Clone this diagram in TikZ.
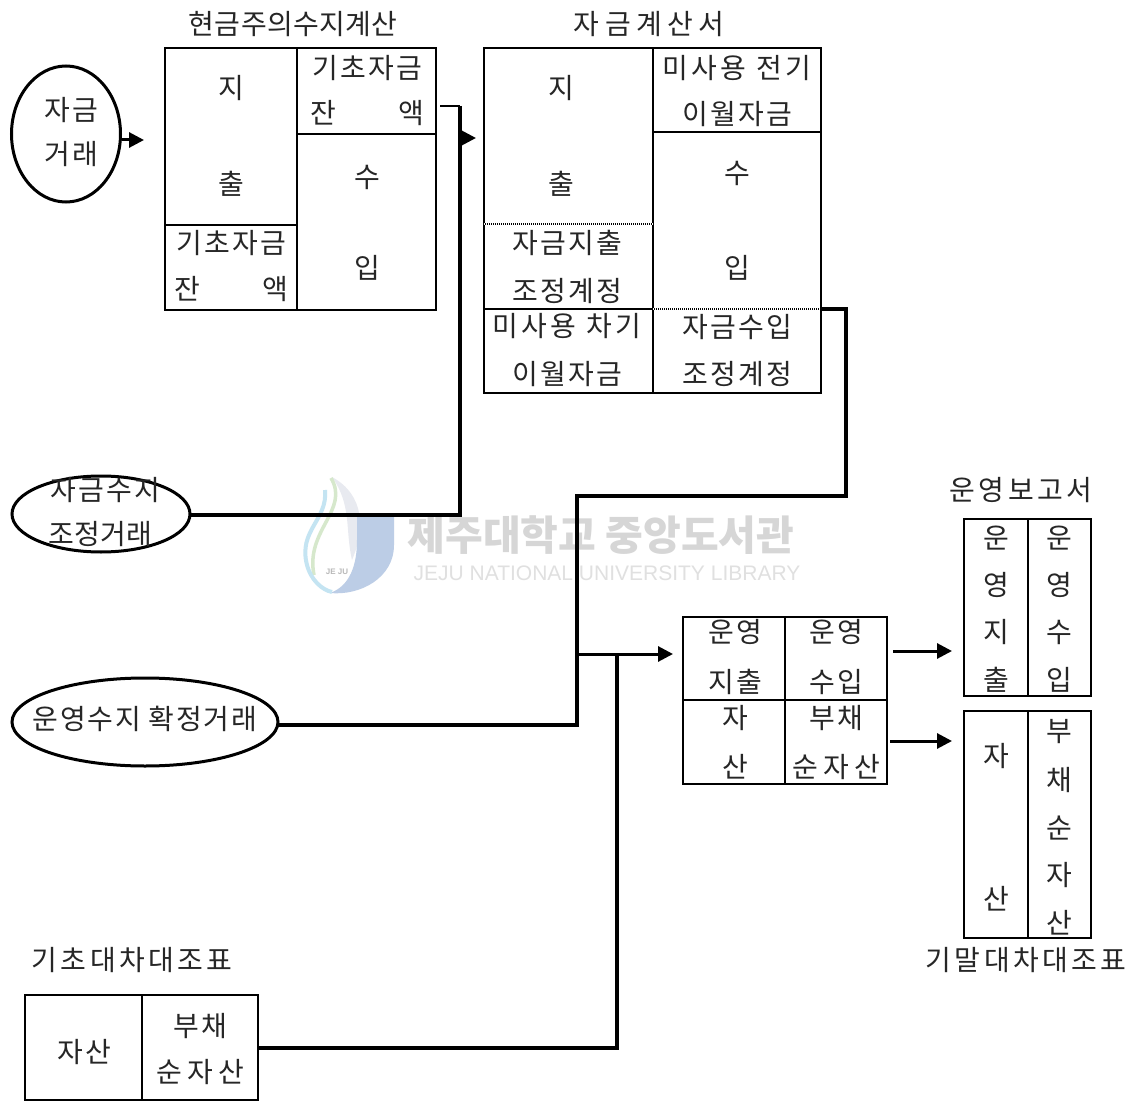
\documentclass[tikz,border=0pt]{standalone}
\usepackage{fontspec}
\setmainfont{Noto Sans CJK KR}[LetterSpace=8]
\newfontfamily\fT{Noto Sans CJK KR}[LetterSpace=1]
\newfontfamily\fM{Noto Sans CJK KR}[LetterSpace=12]
\newfontfamily\fW{Noto Sans CJK KR}[LetterSpace=19]
\newfontfamily\fR{Noto Sans CJK KR}[LetterSpace=6]
\newfontfamily\wmk{Noto Sans CJK KR}
\newfontfamily\wme{Liberation Sans}
\usetikzlibrary{shapes.geometric,arrows.meta}
\definecolor{wmtext}{HTML}{D6D6D6}
\definecolor{wmeng}{HTML}{E0E0E0}
\definecolor{lgj}{HTML}{BCCDE6}
\definecolor{lgg}{HTML}{D6E8CC}
\definecolor{lgc}{HTML}{C4E4F2}
\definecolor{lgs}{HTML}{E8EAF0}
\tikzset{
  x=1pt,y=-1pt,
  txt/.style={inner sep=0pt,font=\fontsize{28}{32}\selectfont,text=black!85},
  box/.style={draw=black,line width=2pt,inner sep=0pt,outer sep=0pt,anchor=north west},
  oval/.style={draw=black,line width=3pt,shape=ellipse,inner sep=0pt,outer sep=0pt},
  wire/.style={draw=black,line width=3.2pt},
  thin wire/.style={draw=black,line width=1.8pt},
  tip/.style={-{Triangle[length=15pt,width=15pt]},line width=3pt},
  dotrule/.style={draw=white,line width=2pt,dash pattern=on 0.6pt off 1.4pt},
}
\newcommand{\cellbox}[5]{\node[box,minimum width=#4 pt - #2 pt,minimum height=#5 pt - #3 pt] (#1) at (#2,#3) {};}
\newcommand{\lbl}[4]{\node[txt] (#1) at (#2,#3) {#4};}
\begin{document}
\begin{tikzpicture}
\useasboundingbox (0,0) rectangle (1133,1102);
\fill[white] (0,0) rectangle (1133,1102);
% watermark
\fill[lgs] (332,477) .. controls (365,495) and (365,530) .. (352,560) .. controls (345,530) and (352,505) .. (332,477) -- cycle;
\fill[lgj] (357,513) -- (394,513) -- (394,545) .. controls (394,578) and (360,596) .. (330,593) .. controls (350,586) and (357,565) .. (357,540) -- cycle;
\draw[lgg,line width=3.5pt] (331,478) .. controls (350,510) and (305,530) .. (314,575);
\draw[lgc,line width=4pt] (325,490) .. controls (328,520) and (298,530) .. (307,565) .. controls (311,580) and (322,590) .. (332,592);
\node[inner sep=0pt,text=gray!55,font=\fontsize{8}{9}\selectfont\wme\bfseries] (wl) at (337,572) {JE JU};
\node[inner sep=0pt,text=wmtext,font=\fontsize{41}{46}\selectfont\wmk\bfseries] (wk) at (601,535) {제주대학교 중앙도서관};
\node[inner sep=0pt,text=wmeng,font=\fontsize{21}{24}\selectfont\wme] (we) at (607,573) {JEJU NATIONAL UNIVERSITY  LIBRARY};
% box 1
\lbl{t1}{293}{24}{\fT 현금주의수지계산}
\cellbox{b1a}{165}{48}{297}{225}
\cellbox{b1b}{165}{225}{297}{310}
\cellbox{b1c}{297}{48}{436}{134}
\cellbox{b1d}{297}{134}{436}{310}
\lbl{a1}{231}{88}{지}\lbl{a2}{231}{184}{출}
\lbl{a3}{231}{243}{기초자금}\lbl{a4}{187}{289}{잔}\lbl{a5}{275}{289}{액}
\lbl{a6}{367}{68}{기초자금}\lbl{a7}{323}{113}{잔}\lbl{a8}{411}{113}{액}
\lbl{a9}{367}{177}{수}\lbl{a10}{367}{268}{입}
% box 2
\lbl{t2}{649}{24}{\fW 자금계산서}
\cellbox{b2a}{484}{48}{653}{224}
\cellbox{b2b}{484}{224}{653}{309}
\cellbox{b2c}{653}{48}{821}{132}
\cellbox{b2d}{653}{132}{821}{309}
\cellbox{b2e}{484}{309}{653}{393}
\cellbox{b2f}{653}{309}{821}{393}
\draw[dotrule] (b2a.south west) -- (b2a.south east);
\draw[dotrule] (b2f.north west) -- (b2f.north east);
\lbl{c1}{561}{88}{지}\lbl{c2}{561}{184}{출}
\lbl{c3}{567}{243}{자금지출}\lbl{c4}{567}{291}{조정계정}
\lbl{c5}{567}{326}{\fM 미사용 차기}\lbl{c6}{567}{374}{이월자금}
\lbl{c7}{737}{68}{\fM 미사용 전기}\lbl{c8}{737}{114}{이월자금}
\lbl{c9}{737}{173}{수}\lbl{c10}{737}{268}{입}
\lbl{c11}{737}{327}{자금수입}\lbl{c12}{737}{374}{조정계정}
% box 3
\cellbox{b3a}{683}{617}{785}{700}
\cellbox{b3b}{785}{617}{887}{700}
\cellbox{b3c}{683}{700}{785}{784}
\cellbox{b3d}{785}{700}{887}{784}
\lbl{d1}{735}{632}{운영}\lbl{d2}{735}{682}{지출}
\lbl{d3}{836}{632}{운영}\lbl{d4}{836}{682}{수입}
\lbl{d5}{735}{718}{자}\lbl{d6}{735}{767}{산}
\lbl{d7}{836}{718}{부채}\lbl{d8}{836}{767}{\fW 순자산}
% box 4
\lbl{t4}{1021}{490}{\fM 운영보고서}
\cellbox{b4a}{964}{519}{1028}{696}
\cellbox{b4b}{1028}{519}{1091}{696}
\lbl{e1}{996}{538}{운}\lbl{e2}{996}{585}{영}\lbl{e3}{996}{632}{지}\lbl{e4}{996}{680}{출}
\lbl{e5}{1059}{538}{운}\lbl{e6}{1059}{585}{영}\lbl{e7}{1059}{632}{수}\lbl{e8}{1059}{680}{입}
% box 5
\cellbox{b5a}{964}{711}{1028}{938}
\cellbox{b5b}{1028}{711}{1091}{938}
\lbl{f1}{996}{756}{자}\lbl{f2}{996}{899}{산}
\lbl{f3}{1059}{732}{부}\lbl{f4}{1059}{780}{채}\lbl{f5}{1059}{828}{순}\lbl{f6}{1059}{875}{자}\lbl{f7}{1059}{923}{산}
\lbl{t5}{1026}{960}{\fM 기말대차대조표}
% box 6
\lbl{t6}{132}{960}{\fM 기초대차대조표}
\cellbox{b6a}{25}{995}{142}{1100}
\cellbox{b6b}{142}{995}{258}{1100}
\lbl{g1}{84}{1052}{자산}\lbl{g2}{200}{1026}{부채}\lbl{g3}{200}{1072}{\fW 순자산}
% ellipses
\node[oval,minimum width=109pt,minimum height=136pt] (o1) at (66,134) {};
\lbl{h1}{71}{110}{자금}\lbl{h2}{71}{154}{거래}
\node[oval,minimum width=178pt,minimum height=76pt] (o2) at (101,514) {};
\lbl{h3}{105}{490}{자금수지}\lbl{h4}{100}{534}{\fT 조정거래}
\node[oval,minimum width=266pt,minimum height=88pt] (o3) at (145,722) {};
\lbl{h5}{145}{719}{\fR 운영수지 확정거래}
% connectors
\coordinate (p1) at (440,106);
\coordinate (p2) at (460,106);
\coordinate (p3) at (460,515);
\coordinate (ah1s) at (460,138);
\coordinate (ah1e) at (476,138);
\coordinate (ah0s) at (122,140);
\coordinate (ah0e) at (144,140);
\draw[tip] (ah0s) -- (ah0e);
\draw[thin wire] (p1) -- (p2);
\draw[wire] (p2) -- (p3) -- (o2.east |- p3);
\draw[tip] (ah1s) -- (ah1e);
\coordinate (q1) at (821,309);
\coordinate (q2) at (846,309);
\coordinate (q3) at (846,496);
\coordinate (q4) at (577,496);
\coordinate (q5) at (577,725);
\draw[wire] (q1) -- (q2) -- (q3) -- (q4) -- (q5) -- (o3.east |- q5);
\coordinate (r1) at (577,654);
\coordinate (r2) at (617,654);
\coordinate (r3) at (673,654);
\coordinate (r4) at (617,1048);
\draw[tip] (r1) -- (r3);
\draw[wire] (r2) -- (r4) -- (b6b.east |- r4);
\coordinate (s1) at (893,651);
\coordinate (s2) at (952,651);
\coordinate (s3) at (890,741);
\coordinate (s4) at (952,741);
\draw[tip] (s1) -- (s2);
\draw[tip] (s3) -- (s4);
\end{tikzpicture}
\end{document}
